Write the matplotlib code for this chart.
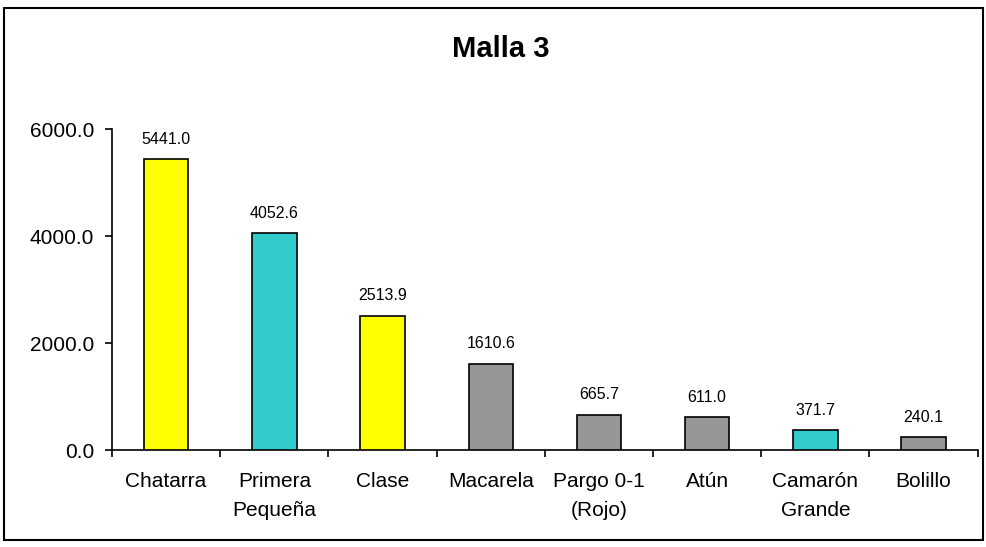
import matplotlib.pyplot as plt
from matplotlib.patches import Rectangle

plt.rcParams['font.family'] = ['Liberation Sans', 'DejaVu Sans']

# Data
categories = ['Chatarra', 'Primera\nPequeña', 'Clase', 'Macarela', 'Pargo 0-1\n(Rojo)',
              'Atún', 'Camarón\nGrande', 'Bolillo']
values = [5441.0, 4052.6, 2513.9, 1610.6, 665.7, 611.0, 371.7, 240.1]
colors = ['#FFFF00', '#33CCCC', '#FFFF00', '#969696', '#969696', '#969696', '#33CCCC', '#969696']
yticks = [0, 2000, 4000, 6000]

fig = plt.figure(figsize=(9.87, 5.47), dpi=100)
ax = fig.add_axes([0.1135, 0.177, 0.877, 0.587])

x = list(range(len(categories)))
bars = ax.bar(x, values, width=0.41, color=colors, edgecolor='black', linewidth=1.2, zorder=3)

for xi, v in zip(x, values):
    ax.annotate(f'{v:.1f}', (xi, v), xytext=(0, 9), textcoords='offset points',
                ha='center', va='bottom', fontsize=11.5)

ax.set_xlim(-0.5, len(categories) - 0.5)
ax.set_ylim(0, 6000)
ax.set_yticks(yticks)
ax.set_yticklabels([f'{t:.1f}' for t in yticks], fontsize=15)

# ticks between categories, labels centred under bars
ax.set_xticks([i - 0.5 for i in range(len(categories) + 1)])
ax.set_xticklabels([])
ax.set_xticks(x, minor=True)
ax.set_xticklabels(categories, minor=True, fontsize=15, linespacing=1.65)
ax.tick_params(axis='x', which='minor', length=0, pad=16)
ax.tick_params(axis='x', which='major', length=5, width=1.2, direction='out')
ax.tick_params(axis='y', length=5, width=1.2, direction='out', pad=8)

for side in ['top', 'right']:
    ax.spines[side].set_visible(False)
for side in ['left', 'bottom']:
    ax.spines[side].set_linewidth(1.2)

fig.text(0.507, 0.910, 'Malla 3', ha='center', va='center', fontsize=21, fontweight='bold')

# outer chart border
fig.patches.append(Rectangle((0.004, 0.013), 0.992, 0.973, transform=fig.transFigure,
                             fill=False, edgecolor='black', linewidth=1.5))

plt.savefig('out.png', dpi=100)
